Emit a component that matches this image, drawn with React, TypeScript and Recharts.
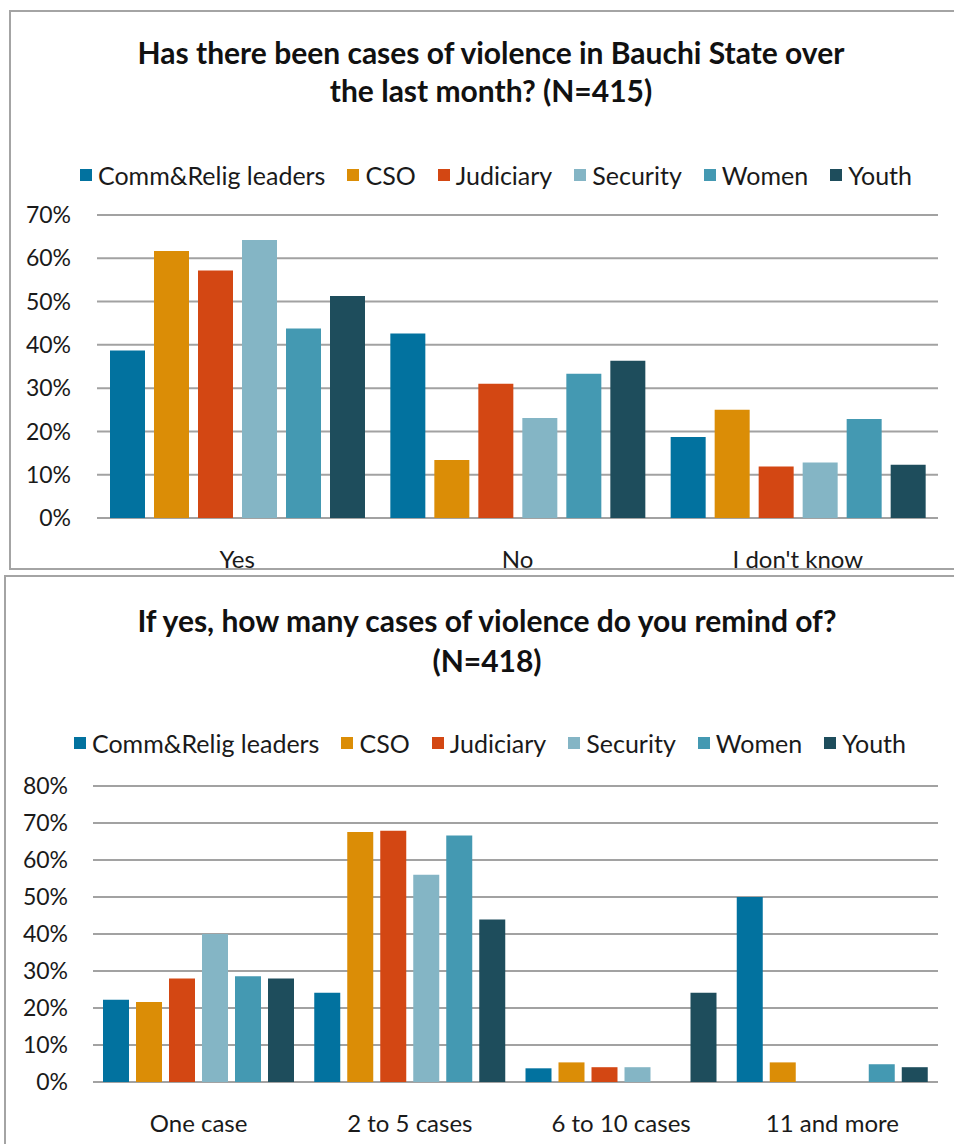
import React from 'react';
import { BarChart, Bar, XAxis, YAxis, CartesianGrid, Legend } from 'recharts';

const seriesNames = ['Comm&Relig leaders', 'CSO', 'Judiciary', 'Security', 'Women', 'Youth'];
const seriesKeys = ['comm', 'cso', 'judiciary', 'security', 'women', 'youth'];
const seriesColors = ['#02729f', '#db8d06', '#d34713', '#84b5c5', '#4499b2', '#1e4d5c'];

// Chart 1
const title1 = ['Has there been cases of violence in Bauchi State over', 'the last month? (N=415)'];
const categories1 = ['Yes', 'No', "I don't know"];
const comm1 = [38.7, 42.6, 18.7];
const cso1 = [61.7, 13.4, 25.0];
const judiciary1 = [57.2, 31.0, 11.9];
const security1 = [64.2, 23.1, 12.8];
const women1 = [43.8, 33.3, 22.9];
const youth1 = [51.3, 36.3, 12.3];
const ticks1 = [0, 10, 20, 30, 40, 50, 60, 70];

// Chart 2
const title2 = ['If yes, how many cases of violence do you remind of?', '(N=418)'];
const categories2 = ['One case', '2 to 5 cases', '6 to 10 cases', '11 and more'];
const comm2 = [22.2, 24.1, 3.7, 50.0];
const cso2 = [21.6, 67.6, 5.3, 5.3];
const judiciary2 = [28.0, 67.9, 4.0, 0];
const security2 = [40.0, 56.0, 4.0, 0];
const women2 = [28.6, 66.6, 0, 4.8];
const youth2 = [28.0, 43.9, 24.1, 4.0];
const ticks2 = [0, 10, 20, 30, 40, 50, 60, 70, 80];

const build = (cats: string[], cols: number[][]) =>
  cats.map((c, i) => {
    const row: any = { name: c };
    seriesKeys.forEach((k, j) => (row[k] = cols[j][i]));
    return row;
  });

const data1 = build(categories1, [comm1, cso1, judiciary1, security1, women1, youth1]);
const data2 = build(categories2, [comm2, cso2, judiciary2, security2, women2, youth2]);

const FONT = 'Lato, "Noto Sans", sans-serif';
const TEXT = '#1a1a1a';

const renderLegend = (props: any) => {
  const payload = [...(props.payload || [])].sort(
    (a: any, b: any) => seriesNames.indexOf(a.value) - seriesNames.indexOf(b.value)
  );
  return (
    <div style={{ display: 'flex', justifyContent: 'center', alignItems: 'center', fontFamily: FONT, fontSize: 25, color: TEXT, whiteSpace: 'nowrap' }}>
      {payload.map((p: any, i: number) => (
        <div key={i} style={{ display: 'flex', alignItems: 'center', marginRight: i < payload.length - 1 ? 22 : 0 }}>
          <span style={{ display: 'inline-block', width: 12, height: 12, background: p.color, marginRight: 6 }} />
          <span>{p.value}</span>
        </div>
      ))}
    </div>
  );
};

const titleStyle: React.CSSProperties = {
  position: 'absolute',
  textAlign: 'center',
  fontFamily: FONT,
  fontWeight: 700,
  fontSize: 30,
  color: '#111',
  whiteSpace: 'nowrap',
};

const boxStyle: React.CSSProperties = {
  position: 'absolute',
  border: '2px solid #a4a4a4',
  boxSizing: 'border-box',
  overflow: 'hidden',
  background: '#fff',
};

const yTickStyle = { fontFamily: FONT, fontSize: 23, fill: TEXT };
const xTickStyle = { fontFamily: FONT, fontSize: 24, fill: TEXT };

export default function App() {
  return (
    <div style={{ position: 'absolute', left: 0, top: 0, width: 954, height: 1144, overflow: 'hidden', background: '#fff' }}>
      {/* Chart 1 box */}
      <div style={{ ...boxStyle, left: 9, top: 10, width: 970, height: 560 }}>
        <div style={{ ...titleStyle, left: -11, top: 21, width: 982, lineHeight: '38px' }}>
          {title1.map((t, i) => (
            <div key={i}>{t}</div>
          ))}
        </div>
        <div style={{ position: 'absolute', left: -11, top: -12 }}>
          <BarChart width={954} height={600} data={data1} margin={{ top: 185, right: 16, bottom: 42, left: 0 }} barSize={35} barGap={9}>
            <CartesianGrid vertical={false} stroke="#a2a2a2" strokeWidth={2} />
            <XAxis dataKey="name" axisLine={false} tickLine={false} tickSize={0} tickMargin={33} height={40} tick={xTickStyle} interval={0} />
            <YAxis domain={[0, 70]} ticks={ticks1} width={97} axisLine={false} tickLine={false} tickSize={0} tickMargin={26} tick={yTickStyle} tickFormatter={(v: number) => `${v}%`} interval={0} />
            <Legend verticalAlign="top" align="center" content={renderLegend} wrapperStyle={{ top: 160, left: 0, width: 992, height: 30 }} />
            {seriesKeys.map((k, i) => (
              <Bar key={k} dataKey={k} name={seriesNames[i]} fill={seriesColors[i]} isAnimationActive={false} />
            ))}
          </BarChart>
        </div>
      </div>

      {/* Chart 2 box */}
      <div style={{ ...boxStyle, left: 4, top: 575, width: 980, height: 620 }}>
        <div style={{ ...titleStyle, left: -6, top: 23, width: 974, lineHeight: '40px' }}>
          {title2.map((t, i) => (
            <div key={i}>{t}</div>
          ))}
        </div>
        <div style={{ position: 'absolute', left: -6, top: -17 }}>
          <BarChart width={954} height={600} data={data2} margin={{ top: 196, right: 16, bottom: 18, left: 0 }} barSize={26} barGap={7}>
            <CartesianGrid vertical={false} stroke="#a2a2a2" strokeWidth={2} />
            <XAxis dataKey="name" axisLine={false} tickLine={false} tickSize={0} tickMargin={33} height={60} tick={xTickStyle} interval={0} />
            <YAxis domain={[0, 80]} ticks={ticks2} width={93} axisLine={false} tickLine={false} tickSize={0} tickMargin={25} tick={yTickStyle} tickFormatter={(v: number) => `${v}%`} interval={0} />
            <Legend verticalAlign="top" align="center" content={renderLegend} wrapperStyle={{ top: 168, left: 0, width: 980, height: 30 }} />
            {seriesKeys.map((k, i) => (
              <Bar key={k} dataKey={k} name={seriesNames[i]} fill={seriesColors[i]} isAnimationActive={false} />
            ))}
          </BarChart>
        </div>
      </div>
    </div>
  );
}
